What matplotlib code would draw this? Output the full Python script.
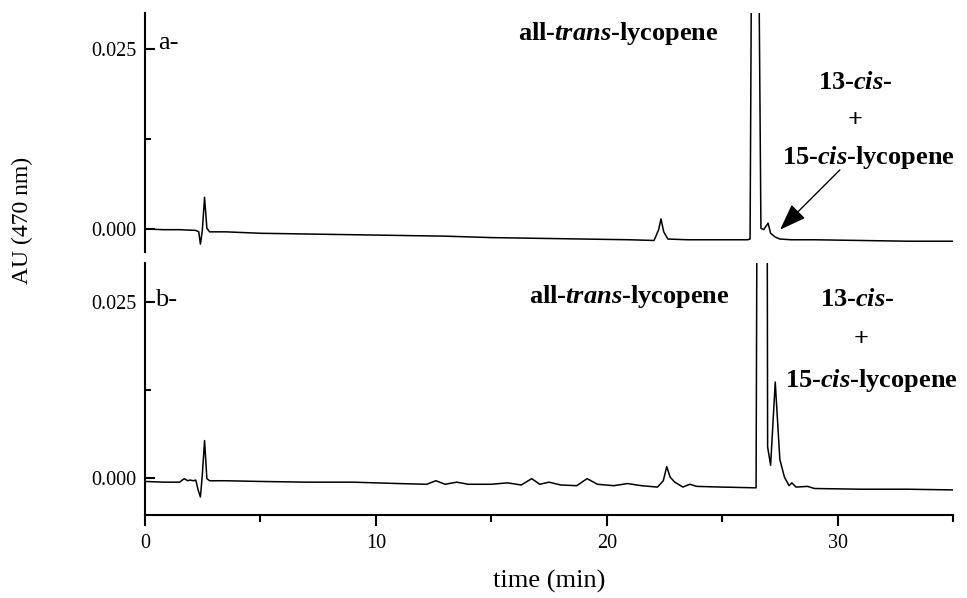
import matplotlib
matplotlib.use("Agg")
import matplotlib.pyplot as plt
from matplotlib.ticker import FixedLocator, FormatStrFormatter

plt.rcParams['font.family'] = ['Liberation Serif', 'DejaVu Serif']
plt.rcParams['mathtext.fontset'] = 'custom'
plt.rcParams['mathtext.rm'] = 'Liberation Serif:bold'
plt.rcParams['mathtext.it'] = 'Liberation Serif:italic:bold'
plt.rcParams['mathtext.bf'] = 'Liberation Serif:bold'

# ---- data ----
time_a = [0, 0.8, 1.5, 2.2, 2.33, 2.40, 2.48, 2.58, 2.68, 2.8, 3.5, 5, 7, 9, 11, 13,
          15, 17, 19, 21, 22.05, 22.25, 22.35, 22.47, 22.65, 23.5, 25, 26.1, 26.21,
          26.29, 26.42, 26.56, 26.68, 26.80, 26.99, 27.10, 27.29, 27.5, 28, 29, 31, 33, 35]
au_a = [0.0000, -0.0001, -0.0001, -0.0002, -0.0004, -0.0021, -0.0003, 0.0044, 0.0001,
        -0.0004, -0.0004, -0.0006, -0.0007, -0.0008, -0.0009, -0.0010, -0.0012, -0.0013,
        -0.0014, -0.0015, -0.0016, -0.0001, 0.0014, -0.0004, -0.0014, -0.0015, -0.0015,
        -0.0015, -0.0014, 0.05, 0.12, 0.05, 0.0001, -0.0001, 0.0008, -0.0006, -0.0011,
        -0.0014, -0.0015, -0.0015, -0.0016, -0.0017, -0.0017]

time_b = [0, 0.8, 1.5, 1.7, 1.85, 1.95, 2.1, 2.2, 2.3, 2.4, 2.48, 2.58, 2.68, 2.8, 3.5,
          5, 7, 9, 11, 12.2, 12.6, 13.0, 13.5, 14.0, 15.0, 15.7, 16.3, 16.75, 17.1, 17.5,
          18.0, 18.7, 19.15, 19.6, 20.3, 20.9, 21.5, 22.2, 22.45, 22.6, 22.75, 22.95,
          23.3, 23.6, 23.9, 25, 26.4, 26.47, 26.53, 26.73, 26.94, 26.97, 27.10, 27.3,
          27.5, 27.7, 27.9, 28.02, 28.2, 28.7, 29, 31, 33, 35]
au_b = [-0.0005, -0.0006, -0.0006, -0.0001, -0.0004, -0.0003, -0.0004, -0.0003, -0.0017,
        -0.0027, 0.0003, 0.0053, -0.0001, -0.0004, -0.0004, -0.0005, -0.0006, -0.0006,
        -0.0008, -0.0009, -0.0004, -0.0009, -0.0006, -0.0009, -0.0009, -0.0007, -0.0010,
        -0.0001, -0.0009, -0.0006, -0.0010, -0.0011, -0.0001, -0.0009, -0.0011, -0.0008,
        -0.0011, -0.0013, -0.0004, 0.0016, 0.0001, -0.0006, -0.0013, -0.0009, -0.0012,
        -0.0013, -0.0014, -0.0014, 0.06, 0.12, 0.06, 0.0044, 0.0018, 0.0136, 0.0026,
        0.0001, -0.0011, -0.0007, -0.0013, -0.0012, -0.0015, -0.0016, -0.0016, -0.0017]

x_ticks = [0, 10, 20, 30]
y_ticks = [0.000, 0.025]

fig = plt.figure(figsize=(9.67, 5.98), dpi=100)
ax_a = fig.add_axes([0.14995, 0.57860, 0.83557, 0.39967])
ax_b = fig.add_axes([0.14995, 0.13880, 0.83557, 0.42140])

for ax in (ax_a, ax_b):
    for s in ('top', 'right'):
        ax.spines[s].set_visible(False)
    ax.spines['left'].set_linewidth(1.5)
    ax.spines['bottom'].set_linewidth(1.5)
    ax.set_xlim(0, 35)
    ax.yaxis.set_major_locator(FixedLocator(y_ticks))
    ax.yaxis.set_minor_locator(FixedLocator([0.0125]))
    ax.yaxis.set_major_formatter(FormatStrFormatter('%.3f'))
    ax.tick_params(axis='y', which='major', direction='in', length=7, width=1.5,
                   labelsize=14.5, pad=6)
    ax.tick_params(axis='y', which='minor', direction='in', length=4.5, width=1.5)

ax_a.spines['bottom'].set_visible(False)
ax_a.tick_params(axis='x', which='both', bottom=False, labelbottom=False)
ax_a.set_ylim(-0.0032, 0.030)
ax_b.set_ylim(-0.00526, 0.0305)

ax_b.xaxis.set_major_locator(FixedLocator(x_ticks))
ax_b.xaxis.set_minor_locator(FixedLocator([5, 15, 25, 35]))
ax_b.tick_params(axis='x', which='major', direction='out', length=8, width=1.5,
                 labelsize=14.5, pad=6)
ax_b.tick_params(axis='x', which='minor', direction='out', length=5, width=1.5)

ax_a.plot(time_a, au_a, color='black', lw=1.1)
ax_b.plot(time_b, au_b, color='black', lw=1.1)

tkw = dict(fontsize=19, fontweight='bold', ha='center', va='center')
ax_a.text(20.51, 0.0272, 'all-$\\mathit{trans}$-lycopene', **tkw)
ax_a.text(30.75, 0.0204, '13-$\\mathit{cis}$-', **tkw)
ax_a.text(30.78, 0.0151, '+', **tkw)
ax_a.text(31.34, 0.0099, '15-$\\mathit{cis}$-lycopene', **tkw)
ax_a.annotate('', xy=(27.51, -0.0001), xytext=(30.10, 0.0082),
              arrowprops=dict(arrowstyle='-|>,head_length=1.1,head_width=0.4',
                              mutation_scale=15, lw=1.0, color='black',
                              shrinkA=0, shrinkB=0))
ax_a.text(0.56, 0.0258, 'a-', fontsize=19, ha='left', va='center')

ax_b.text(20.99, 0.0257, 'all-$\\mathit{trans}$-lycopene', **tkw)
ax_b.text(30.86, 0.0253, '13-$\\mathit{cis}$-', **tkw)
ax_b.text(31.01, 0.0197, '+', **tkw)
ax_b.text(31.47, 0.0138, '15-$\\mathit{cis}$-lycopene', **tkw)
ax_b.text(0.43, 0.0253, 'b-', fontsize=19, ha='left', va='center')

fig.text(0.0228, 0.632, 'AU (470 nm)', rotation=90, fontsize=17, ha='center', va='center')
ax_b.set_xlabel('time (min)', fontsize=19, labelpad=12)

fig.savefig('out.png', dpi=100)
